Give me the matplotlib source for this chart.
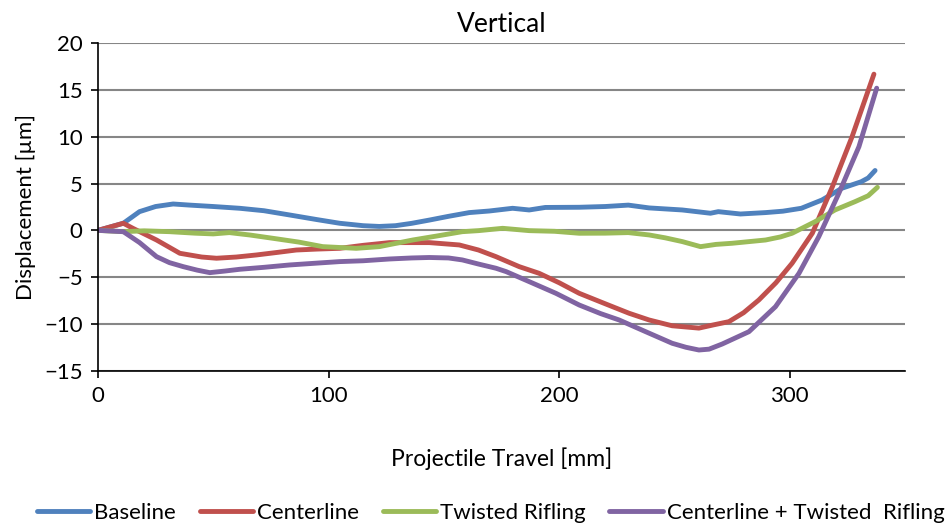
import matplotlib
matplotlib.use("Agg")
import matplotlib.pyplot as plt

plt.rcParams['font.family'] = ['Lato', 'DejaVu Sans']

# Baseline
base_x = [0, 11, 18, 25, 32.6, 39.8, 50, 61.5, 72, 83, 95, 104.8, 115, 122, 129, 136, 143.7, 152, 161,
          169.7, 179.8, 187, 194, 208.7, 220, 230, 239, 253.4, 265.6, 269, 278.6, 289.5, 297, 305,
          314, 322.6, 331, 334, 337]
base_y = [0, 0.76, 2.0, 2.55, 2.82, 2.7, 2.55, 2.36, 2.1, 1.65, 1.15, 0.76, 0.5, 0.42, 0.5, 0.75, 1.1, 1.5, 1.9,
          2.07, 2.36, 2.18, 2.45, 2.47, 2.55, 2.7, 2.4, 2.18, 1.83, 2.0, 1.75, 1.9, 2.05, 2.36,
          3.25, 4.5, 5.2, 5.6, 6.4]

# Centerline
cent_x = [0, 11, 15.3, 25.4, 35.5, 45, 51.4, 60, 68.7, 78, 86, 95, 104.8, 115, 126.4, 143.7, 156.7, 165,
          172.6, 182.7, 191.3, 200, 208.7, 220, 230.3, 239, 249, 260.6, 267, 273.6, 280, 286.6, 294,
          301, 309.8, 318.5, 327, 336.5]
cent_y = [0, 0.76, 0.2, -1.03, -2.45, -2.85, -2.98, -2.85, -2.63, -2.35, -2.1, -2.0, -1.92, -1.6, -1.31, -1.31, -1.56, -2.1,
          -2.81, -3.88, -4.59, -5.6, -6.73, -7.85, -8.86, -9.58, -10.2, -10.45, -10.1, -9.76, -8.8, -7.44, -5.6,
          -3.52, -0.3, 4.67, 10.0, 16.7]

# Twisted Rifling
twist_x = [0, 11, 20, 31, 42, 50, 57, 66, 75.9, 87, 97.5, 112, 122, 136.5, 147, 158, 165, 175.5, 187,
           198, 208.7, 220, 230, 239, 246, 253.4, 261.3, 268, 275, 289.5, 296, 301, 311, 319.6, 328.3, 334, 338]
twist_y = [0, -0.14, -0.05, -0.14, -0.3, -0.38, -0.24, -0.5, -0.85, -1.25, -1.74, -1.92, -1.74, -1.03, -0.6, -0.14, -0.03, 0.22, -0.03,
           -0.1, -0.31, -0.3, -0.24, -0.49, -0.8, -1.2, -1.74, -1.5, -1.38, -1.03, -0.7, -0.31, 0.93, 2.18, 3.07, 3.7, 4.6]

# Centerline + Twisted Rifling
both_x = [0, 11, 18, 25.4, 31, 37, 43, 48.5, 55, 61.5, 72, 83, 95, 104.8, 115, 126.4, 136, 143.7, 152, 158,
          165, 172.6, 177, 187, 198.6, 208.7, 218, 226, 237.5, 249, 255, 260.6, 265, 270.7, 282.3, 293.8,
          304, 312.6, 321.3, 330, 337.7]
both_y = [0, -0.14, -1.3, -2.81, -3.45, -3.88, -4.25, -4.52, -4.35, -4.16, -3.95, -3.7, -3.5, -3.34, -3.25, -3.06, -2.95, -2.9, -2.95, -3.16,
          -3.6, -4.05, -4.41, -5.48, -6.73, -7.98, -8.9, -9.58, -10.83, -12.07, -12.5, -12.79, -12.7, -12.15, -10.83, -8.16,
          -4.59, -0.67, 3.97, 8.95, 15.2]

series = [
    ("Baseline", base_x, base_y, "#4F81BD"),
    ("Centerline", cent_x, cent_y, "#C0504D"),
    ("Twisted Rifling", twist_x, twist_y, "#9BBB59"),
    ("Centerline + Twisted  Rifling", both_x, both_y, "#8064A2"),
]

fig = plt.figure(figsize=(9.53, 5.24), dpi=100)
ax = fig.add_axes([0.1028, 0.2926, 0.8469, 0.6248])

for label, xs, ys, color in series:
    ax.plot(xs, ys, color=color, lw=3.5, label=label, solid_capstyle='round', solid_joinstyle='round')

ax.set_xlim(0, 350)
ax.set_ylim(-15, 20)
ax.set_xticks([0, 100, 200, 300])
ax.set_yticks(range(-15, 21, 5))
ax.grid(axis='y', color='#868686', lw=1.5)
ax.set_axisbelow(True)
for s in ['top', 'right']:
    ax.spines[s].set_visible(False)
ax.spines['left'].set_linewidth(1.2)
ax.spines['bottom'].set_linewidth(1.2)
ax.tick_params(axis='both', direction='out', length=5, width=1.2, labelsize=16, pad=6)

ax.set_title("Vertical", fontsize=19, pad=8)
ax.set_xlabel("Projectile Travel [mm]", fontsize=16.5, labelpad=30)
ax.set_ylabel("Displacement [\u00b5m]", fontsize=16, labelpad=6)

fig.legend(loc='lower center', bbox_to_anchor=(0.515, -0.036), ncol=4, frameon=False, fontsize=16,
           handlelength=2.4, handletextpad=0.2, columnspacing=1.05)

fig.savefig("out.png", dpi=100)
